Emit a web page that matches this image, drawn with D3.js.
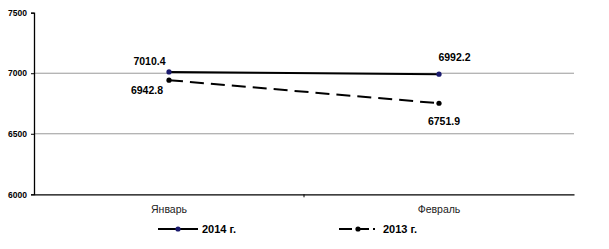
<!DOCTYPE html>
<html><head><meta charset="utf-8">
<script src="https://cdn.jsdelivr.net/npm/d3@7"></script>
<style>body{margin:0;background:#fff;}svg{display:block;}</style>
</head><body>
<script>
const categories = ["Январь", "Февраль"];
const values2014 = [7010.4, 6992.2];
const values2013 = [6942.8, 6751.9];
const seriesNames = ["2014 г.", "2013 г."];
const yTicks = [6000, 6500, 7000, 7500];

const W = 609, H = 249;
const svg = d3.select("body").append("svg").attr("width", W).attr("height", H);
const x = d3.scaleBand().domain(categories).range([34, 574]);
const y = d3.scaleLinear().domain([6000, 7500]).range([194.3, 12.7]);
const cx = c => x(c) + x.bandwidth() / 2;
const font = "Arial, 'Liberation Sans', sans-serif";

// gridlines
svg.append("g").selectAll("line").data(yTicks.filter(t => t > 6000 && t < 7500)).join("line")
  .attr("x1", 34).attr("x2", 574).attr("y1", d => y(d)).attr("y2", d => y(d))
  .attr("stroke", "#999").attr("stroke-width", 1);

// y axis
const yAxis = svg.append("g").attr("transform", "translate(34,0)")
  .call(d3.axisLeft(y).tickValues(yTicks).tickSize(3).tickPadding(4).tickFormat(d3.format("d")));
yAxis.select(".domain").attr("stroke", "#000").attr("stroke-width", 1.3);
yAxis.selectAll(".tick line").attr("stroke", "#000");
yAxis.selectAll("text").attr("font-family", font)
  .attr("font-size", 8.5).attr("font-weight", "bold").attr("fill", "#000");

// x axis
const xAxis = svg.append("g").attr("transform", `translate(0,${y(6000)})`)
  .call(d3.axisBottom(x).tickSize(0).tickPadding(11));
xAxis.select(".domain").attr("stroke", "#000").attr("stroke-width", 1.3);
xAxis.selectAll("text").attr("font-family", font)
  .attr("font-size", 10.5).attr("fill", "#222");
svg.append("line").attr("x1", x(categories[1])).attr("x2", x(categories[1]))
  .attr("y1", y(6000)).attr("y2", y(6000) + 3).attr("stroke", "#000");

const line = d3.line().x((d, i) => cx(categories[i])).y(d => y(d));
svg.append("path").datum(values2013).attr("d", line).attr("fill", "none")
  .attr("stroke", "#000").attr("stroke-width", 2).attr("stroke-dasharray", "14,7");
svg.append("path").datum(values2014).attr("d", line).attr("fill", "none")
  .attr("stroke", "#000").attr("stroke-width", 2);

svg.append("g").selectAll("circle").data(values2014).join("circle")
  .attr("cx", (d, i) => cx(categories[i])).attr("cy", d => y(d)).attr("r", 2.6).attr("fill", "#1a1a6e");
svg.append("g").selectAll("circle").data(values2013).join("circle")
  .attr("cx", (d, i) => cx(categories[i])).attr("cy", d => y(d)).attr("r", 2.6).attr("fill", "#000");

const labels = [
  {v: values2014[0], i: 0, dx: -19.5, dy: -7},
  {v: values2014[1], i: 1, dx: 15.5, dy: -13},
  {v: values2013[0], i: 0, dx: -22, dy: 14},
  {v: values2013[1], i: 1, dx: 5, dy: 22}
];
svg.append("g").selectAll("text").data(labels).join("text")
  .attr("x", d => cx(categories[d.i]) + d.dx).attr("y", d => y(d.v) + d.dy)
  .attr("text-anchor", "middle").attr("font-family", font).attr("font-size", 10.5)
  .attr("font-weight", "bold").attr("fill", "#000").text(d => d.v.toFixed(1));

// legend
const lg = svg.append("g");
const legendItems = [
  {name: seriesNames[0], x1: 158, x2: 198, m: 178, dash: null, fill: "#1a1a6e", tx: 202},
  {name: seriesNames[1], x1: 339, x2: 375, m: 358, dash: "13,4", fill: "#000", tx: 383}
];
legendItems.forEach(it => {
  lg.append("line").attr("x1", it.x1).attr("x2", it.x2).attr("y1", 229).attr("y2", 229)
    .attr("stroke", "#000").attr("stroke-width", 2).attr("stroke-dasharray", it.dash);
  lg.append("circle").attr("cx", it.m).attr("cy", 229).attr("r", 2.6).attr("fill", it.fill);
  lg.append("text").attr("x", it.tx).attr("y", 232.5).attr("font-family", font)
    .attr("font-size", 11).attr("font-weight", "bold").attr("fill", "#000").text(it.name);
});
</script>
</body></html>
